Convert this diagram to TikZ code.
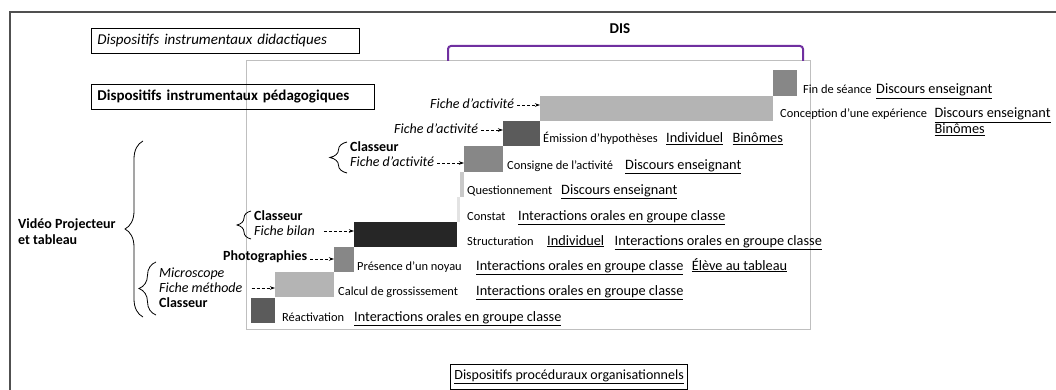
\documentclass[tikz,border=0pt]{standalone}
\usepackage{fontspec}
\setmainfont{Carlito}
\usetikzlibrary{arrows.meta,positioning,decorations.pathreplacing}

\definecolor{framegray}{HTML}{505050}
\definecolor{panelgray}{HTML}{BFBFBF}
\definecolor{dispurple}{HTML}{7030A0}
\definecolor{toneA}{HTML}{262626}
\definecolor{toneB}{HTML}{5B5B5B}
\definecolor{toneC}{HTML}{878787}
\definecolor{toneD}{HTML}{B4B4B4}
\definecolor{toneE}{HTML}{C9C9C9}
\definecolor{toneF}{HTML}{E3E3E3}

\begin{document}
\begin{tikzpicture}[x=1pt, y=-1pt,
 blk/.style={anchor=north west, inner sep=0pt, outer sep=0pt, minimum height=25pt, minimum width=#1},
 lbl/.style={anchor=base west, inner sep=1pt, font=\fontsize{12.4}{14}\selectfont},
 und/.style={anchor=base west, inner sep=1pt, font=\fontsize{14.3}{16}\selectfont},
 tool/.style={anchor=base west, inner sep=1pt, font=\fontsize{14}{16}\selectfont},
 hdbox/.style={draw, line width=0.8pt, anchor=north west, minimum height=25pt, inner xsep=6pt, align=left, font=\fontsize{15}{17}\selectfont},
 darr/.style={-{Stealth[length=5pt,width=3.5pt]}, dash pattern=on 3pt off 2pt, line width=0.7pt, shorten <=2pt},
 brc/.style={decorate, decoration={brace, amplitude=#1}, line width=0.8pt},
]
\useasboundingbox (0,0) rectangle (1056,390);

% outer frame and panel
\draw[framegray, line width=1.5pt] (1056,12) -- (10,12) -- (10,390);
\draw[panelgray, line width=1pt] (246,61) rectangle (810,329);

% headings
\node[hdbox, text width=256pt, font=\itshape\fontsize{15}{17}\selectfont] (didac) at (91,28) {Dispositifs instrumentaux didactiques};
\node[hdbox, text width=271pt, font=\bfseries\fontsize{15}{17}\selectfont] (pedag) at (91,84) {Dispositifs instrumentaux pédagogiques};
\node[hdbox, inner xsep=4pt, font=\fontsize{14}{16}\selectfont] (proc) at (450,364) {\underline{Dispositifs procéduraux organisationnels}};

% DIS bracket
\node[font=\bfseries\fontsize{15}{17}\selectfont] (dis) at (620,29) {DIS};
\draw[dispurple, line width=2pt, rounded corners=3pt] (448,61) -- (448,46) -- (803,46) -- (803,61);

% steps of the lesson
\node[blk=24pt, fill=toneB] (reac) at (251,298) {};
\node[blk=59pt, fill=toneD] (calc) at (275,272) {};
\node[blk=20pt, fill=toneC] (pres) at (334,247) {};
\node[blk=103pt, fill=toneA] (struc) at (354,222) {};
\node[blk=3pt, fill=toneF] (const) at (457,197) {};
\node[blk=4pt, fill=toneE] (quest) at (460,172) {};
\node[blk=39pt, minimum height=26pt, fill=toneC] (cons) at (464,146) {};
\node[blk=37pt, fill=toneB] (emis) at (503,121) {};
\node[blk=233pt, fill=toneD] (conc) at (540,96) {};
\node[blk=24pt, minimum height=26pt, fill=toneC] (fin) at (773,70) {};

% phase labels and organisation
\node[lbl] (lreac) at (281,321) {Réactivation};
\node[und] (ureac) at (353,321) {\underline{Interactions orales en groupe classe}};
\node[lbl] (lcalc) at (337,295) {Calcul de grossissement};
\node[und] (ucalc) at (475,295) {\underline{Interactions orales en groupe classe}};
\node[lbl] (lpres) at (356,270) {Présence d’un noyau};
\node[und] (upres) at (475,270) {\underline{Interactions orales en groupe classe}};
\node[und, right=6pt of upres.base east, anchor=base west] (upres2) {\underline{Élève au tableau}};
\node[lbl] (lstruc) at (466,245) {Structuration};
\node[und] (ustruc) at (546,245) {\underline{Individuel}};
\node[und, right=8pt of ustruc.base east, anchor=base west] (ustruc2) {\underline{Interactions orales en groupe classe}};
\node[lbl] (lconst) at (466,220) {Constat};
\node[und] (uconst) at (517,220) {\underline{Interactions orales en groupe classe}};
\node[lbl] (lquest) at (466,194) {Questionnement};
\node[und] (uquest) at (560,194) {\underline{Discours enseignant}};
\node[lbl] (lcons) at (506,169) {Consigne de l’activité};
\node[und] (ucons) at (624,169) {\underline{Discours enseignant}};
\node[lbl] (lemis) at (542,143) {Émission d’hypothèses};
\node[und] (uemis) at (665,143) {\underline{Individuel}};
\node[und, right=7pt of uemis.base east, anchor=base west] (uemis2) {\underline{Binômes}};
\node[lbl] (lconc) at (779,118) {Conception d’une expérience};
\node[und, right=5pt of lconc.base east, anchor=base west] (uconc) {\underline{Discours enseignant}};
\node[und] (uconc2) at ([yshift=-16pt]uconc.base west) {\underline{Binômes}};
\node[lbl] (lfin) at (802,94) {Fin de séance};
\node[und] (ufin) at (875,94) {\underline{Discours enseignant}};

% instruments
\node[tool, font=\bfseries\fontsize{14}{16}\selectfont, align=left, anchor=west] (video) at (17,232) {Vidéo Projecteur\\et tableau};
\draw[brc=18] (143,317) -- (143,141);

\node[tool, font=\itshape\fontsize{14}{16}\selectfont] (fconc) at (429,109) {Fiche d’activité};
\node[tool, font=\itshape\fontsize{14}{16}\selectfont] (femis) at (393,134) {Fiche d’activité};
\node[tool, font=\bfseries\fontsize{14}{16}\selectfont] (clsa) at (349,152) {Classeur};
\node[tool, font=\itshape\fontsize{14}{16}\selectfont] (fcons) at (349,167) {Fiche d’activité};
\draw[brc=17] (347,173) -- (347,142);

\node[tool, font=\bfseries\fontsize{14}{16}\selectfont] (clsb) at (253,220) {Classeur};
\node[tool, font=\itshape\fontsize{14}{16}\selectfont] (fbil) at (253,235) {Fiche bilan};
\draw[brc=14] (251,239) -- (251,211);

\node[tool, font=\bfseries\fontsize{14}{16}\selectfont] (photo) at (222,260) {Photographies};

\node[tool, font=\itshape\fontsize{14}{16}\selectfont] (micro) at (158,277) {Microscope};
\node[tool, font=\itshape\fontsize{14}{16}\selectfont] (fmeth) at (158,292) {Fiche méthode};
\node[tool, font=\bfseries\fontsize{14}{16}\selectfont] (clsc) at (158,307) {Classeur};
\draw[brc=17] (156,315) -- (156,262);

% dashed arrows to the steps
\coordinate (fconc-e) at ([yshift=4pt]fconc.base east);
\coordinate (femis-e) at ([yshift=4pt]femis.base east);
\coordinate (fcons-e) at ([yshift=4pt]fcons.base east);
\coordinate (fbil-e) at ([yshift=4pt]fbil.base east);
\coordinate (photo-e) at ([yshift=1pt]photo.base east);
\coordinate (fmeth-e) at ([yshift=4pt]fmeth.base east);
\draw[darr] (fconc-e) -- (fconc-e -| conc.west);
\draw[darr] (femis-e) -- (femis-e -| emis.west);
\draw[darr] (fcons-e) -- (fcons-e -| cons.west);
\draw[darr, shorten <=8pt] (fbil-e) -- (fbil-e -| struc.west);
\draw[darr] (photo-e) -- (photo-e -| pres.west);
\draw[darr, shorten <=8pt] (fmeth-e) -- (fmeth-e -| calc.west);
\end{tikzpicture}
\end{document}
